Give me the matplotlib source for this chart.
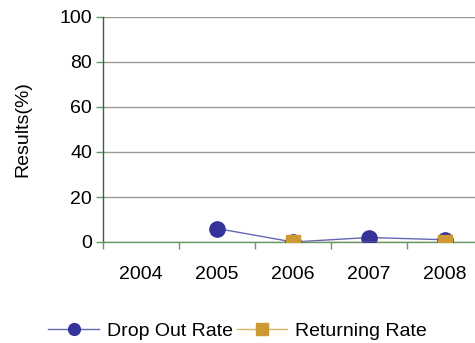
import numpy as np
import matplotlib
matplotlib.use("Agg")
import matplotlib.pyplot as plt
from matplotlib.lines import Line2D

plt.rcParams['font.family'] = ['Liberation Sans', 'DejaVu Sans']

years = ["2004", "2005", "2006", "2007", "2008"]
drop_out = [np.nan, 6, 0, 2, 1]
returning = [np.nan, np.nan, 0, np.nan, 0]
y_ticks = [0, 20, 40, 60, 80, 100]

FS = 14

fig = plt.figure(figsize=(4.75, 3.43), dpi=100)
ax = fig.add_axes([103 / 475, 101 / 343, 380 / 475, 225 / 343])

x = np.arange(len(years))

def valid(vals):
    v = np.array(vals, dtype=float)
    m = ~np.isnan(v)
    return x[m], v[m]

xd, yd = valid(drop_out)
xr, yr = valid(returning)

ax.plot(xd, yd, color="#6666b3", lw=1.0, zorder=3)
ax.plot(xd, yd, ls="none", marker="o", ms=11, color="#333399",
        mec="#333399", zorder=4)
ax.plot(xr, yr, color="#d9b36a", lw=1.0, zorder=5)
ax.plot(xr, yr, ls="none", marker="s", ms=10.5, color="#cc9933",
        mec="#cc9933", zorder=6)

ax.set_xlim(-0.5, 4.5)
ax.set_ylim(0, 100)
ax.set_yticks(y_ticks)
ax.set_yticklabels([str(t) for t in y_ticks], fontsize=FS)
ax.yaxis.grid(True, color="#999999", lw=1.0)
ax.set_axisbelow(True)

ax.set_xticks(np.arange(-0.5, 5.0, 1.0))
ax.set_xticklabels([])
ax.set_xticks(x, minor=True)
ax.set_xticklabels(years, minor=True, fontsize=FS)
ax.tick_params(axis="x", which="minor", length=0, pad=17)
ax.tick_params(axis="x", which="major", length=5, color="#669966", width=1)
ax.tick_params(axis="y", length=5, color="#669966", width=1, pad=3)

for s in ["top", "right"]:
    ax.spines[s].set_visible(False)
ax.spines["left"].set_color("#336633")
ax.spines["bottom"].set_color("#669966")
ax.spines["left"].set_linewidth(1.0)
ax.spines["bottom"].set_linewidth(1.0)

ax.set_ylabel("Results(%)", fontsize=FS, labelpad=20)

handles = [
    Line2D([], [], color="#6666b3", lw=1.0, marker="o", ms=8.5,
           mfc="#333399", mec="#333399"),
    Line2D([], [], color="#d9b36a", lw=1.0, marker="s", ms=8.5,
           mfc="#cc9933", mec="#cc9933"),
]
fig.legend(handles, ["Drop Out Rate", "Returning Rate"], loc="center",
           bbox_to_anchor=(0.5, 1 - 331 / 343), ncol=2, frameon=False,
           fontsize=FS, handlelength=2.6, handletextpad=0.4,
           columnspacing=0.2)

fig.savefig("out.png", dpi=100)
